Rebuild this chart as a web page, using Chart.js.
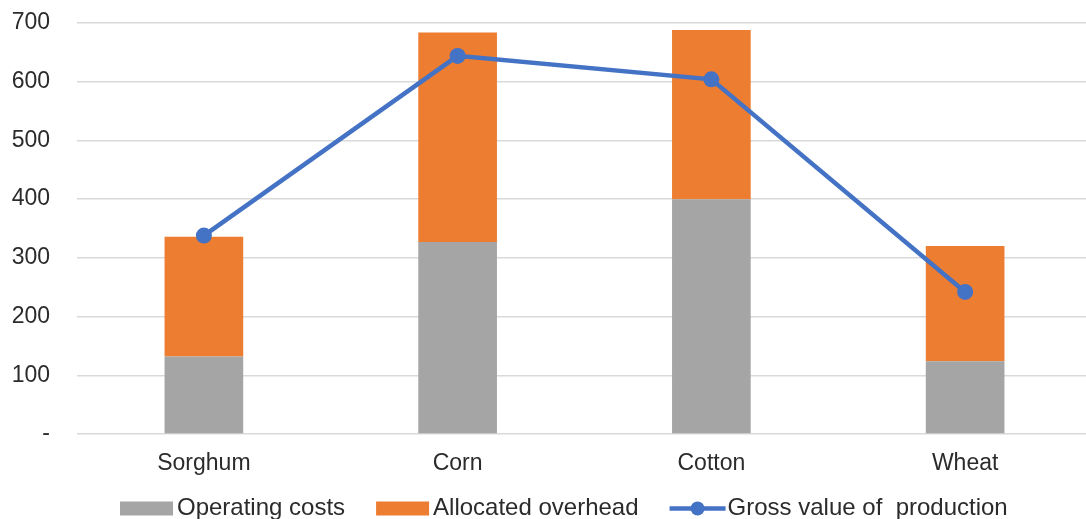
<!DOCTYPE html>
<html>
<head>
<meta charset="utf-8">
<script src="https://cdn.jsdelivr.net/npm/chart.js"></script>
<style>
  html, body { margin: 0; padding: 0; background: #fff; overflow: hidden; }
  #wrap { width: 1100px; height: 519px; }
</style>
</head>
<body>
<div id="wrap"><canvas id="myChart" width="1100" height="519"></canvas></div>
<script>
// data
const crops = ["Sorghum", "Corn", "Cotton", "Wheat"];
const operatingCosts = [132, 327, 400, 124];
const allocatedOverhead = [204, 357, 288, 196];
const grossValue = [338, 644, 604, 242];
const yTicks = [0, 100, 200, 300, 400, 500, 600, 700];

const textColor = "#2b2b2b";
const fontFamily = "'Liberation Sans', Arial, sans-serif";

// legend drawn by hand so the box / text spacing matches the original
const bottomLegend = {
    id: "bottomLegend",
    afterDraw(chart) {
        const ctx = chart.ctx;
        const y = 508.5;
        let x = 120;
        ctx.save();
        ctx.font = "24px " + fontFamily;
        ctx.textBaseline = "middle";
        ctx.fillStyle = textColor;
        chart.data.datasets.slice().sort((a, b) => a.legendOrder - b.legendOrder).forEach(ds => {
            if (ds.type === "line") {
                ctx.strokeStyle = ds.borderColor;
                ctx.lineWidth = 4.5;
                ctx.beginPath();
                ctx.moveTo(x, y);
                ctx.lineTo(x + 56, y);
                ctx.stroke();
                ctx.fillStyle = ds.borderColor;
                ctx.beginPath();
                ctx.arc(x + 28, y, 7, 0, Math.PI * 2);
                ctx.fill();
                x += 58;
            } else {
                ctx.fillStyle = ds.backgroundColor;
                ctx.fillRect(x, y - 7, 53, 14);
                x += 57;
            }
            ctx.fillStyle = textColor;
            ctx.fillText(ds.label, x, y);
            x += ctx.measureText(ds.label).width + 31;
        });
        ctx.restore();
    }
};

const ctx = document.getElementById("myChart").getContext("2d");
const myChart = new Chart(ctx, {
    type: "bar",
    data: {
        labels: crops,
        datasets: [
            {
                type: "line",
                label: "Gross value of  production",
                data: grossValue,
                borderColor: "#4472c4",
                backgroundColor: "#4472c4",
                borderWidth: 4.5,
                pointRadius: 8,
                pointHoverRadius: 8,
                pointBackgroundColor: "#4472c4",
                pointBorderWidth: 0,
                tension: 0,
                order: 0,
                legendOrder: 2
            },
            {
                label: "Operating costs",
                data: operatingCosts,
                backgroundColor: "#a5a5a5",
                stack: "s",
                order: 1,
                legendOrder: 0
            },
            {
                label: "Allocated overhead",
                data: allocatedOverhead,
                backgroundColor: "#ed7d31",
                stack: "s",
                order: 1,
                legendOrder: 1
            }
        ]
    },
    options: {
        responsive: false,
        animation: false,
        layout: { padding: { top: 23, right: 3, bottom: 40, left: 0 } },
        datasets: {
            bar: { categoryPercentage: 1, barPercentage: 0.31 }
        },
        plugins: {
            legend: { display: false },
            tooltip: { enabled: false }
        },
        scales: {
            x: {
                stacked: true,
                grid: { display: false, drawTicks: false },
                border: { display: false },
                ticks: {
                    color: textColor,
                    font: { size: 23, family: fontFamily },
                    padding: 16,
                    maxRotation: 0
                },
                afterFit(scale) {
                    scale.height = 45;
                    scale.paddingLeft = 0;
                    scale.paddingRight = 0;
                }
            },
            y: {
                stacked: true,
                min: 0,
                max: 700,
                afterBuildTicks(scale) { scale.ticks = yTicks.map(v => ({ value: v })); },
                grid: { color: "#d9d9d9", lineWidth: 1.5, drawTicks: false },
                border: { display: false },
                ticks: {
                    color: textColor,
                    font: { size: 23, family: fontFamily },
                    padding: 27,
                    callback: v => v === 0 ? "-" : v
                },
                afterFit(scale) {
                    scale.width = 77;
                    scale.paddingTop = 0;
                    scale.paddingBottom = 0;
                }
            }
        }
    },
    plugins: [bottomLegend]
});
</script>
</body>
</html>
